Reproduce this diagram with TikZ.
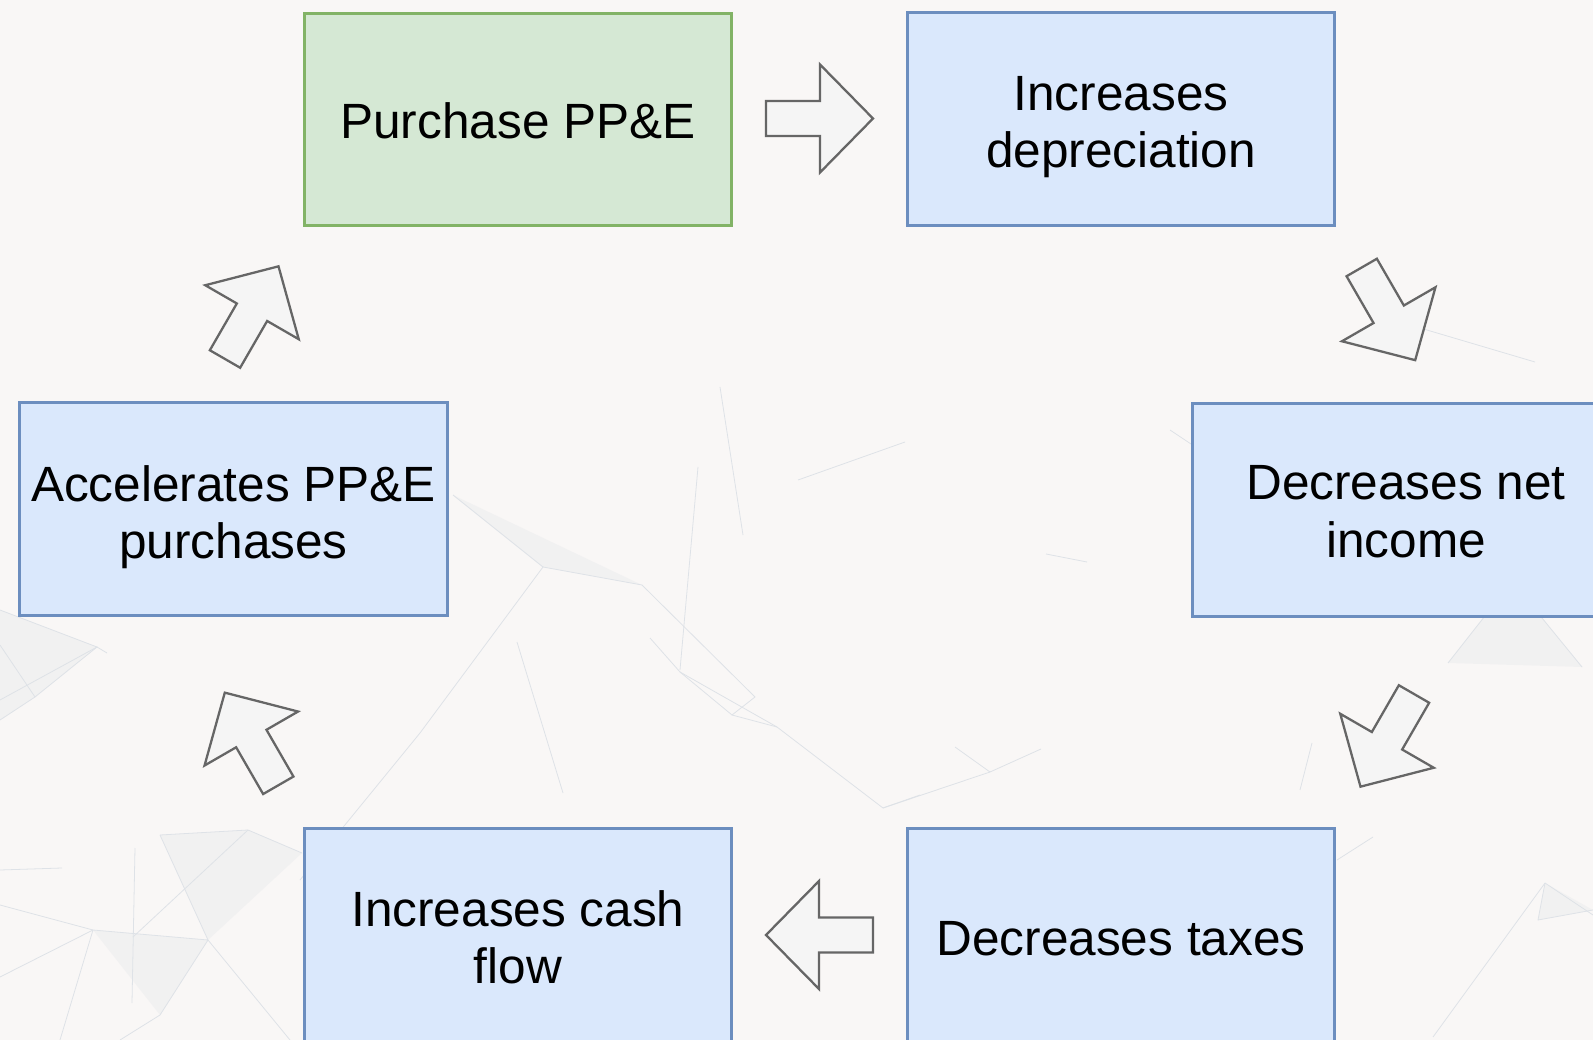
\documentclass[tikz,border=0pt]{standalone}
\usepackage{fontspec}
\setmainfont{Liberation Sans}
\definecolor{bgc}{RGB}{249,247,246}
\definecolor{bluefill}{HTML}{DAE8FC}
\definecolor{bluedraw}{HTML}{6C8EBF}
\definecolor{greenfill}{HTML}{D5E8D4}
\definecolor{greendraw}{HTML}{82B366}
\definecolor{arrfill}{HTML}{F5F5F5}
\definecolor{arrdraw}{HTML}{666666}
\definecolor{plex}{RGB}{222,226,231}
% lower a line without changing its dimensions
\newcommand{\lw}[2]{\raisebox{-#1}[\height][\depth]{#2}}
% lower a line and drop its depth
\newcommand{\lwz}[2]{\raisebox{-#1}[\height][0pt]{#2}}
\tikzset{
  box/.style={rectangle, draw=bluedraw, fill=bluefill, line width=1.7pt,
    minimum width=8.56cm, minimum height=4.26cm, inner sep=0pt,
    align=center, font=\fontsize{28.2}{32.6}\selectfont, text=black},
  greenbox/.style={box, draw=greendraw, fill=greenfill},
  arrowsty/.style={draw=arrdraw, fill=arrfill, line width=1.3pt, line join=miter},
  fatarrow/.pic={\path[arrowsty] (0,-17.5) -- (54,-17.5) -- (54,-54) -- (107,0) -- (54,54) -- (54,17.5) -- (0,17.5) -- cycle;},
  plexline/.style={draw=plex, line width=0.45pt},
  plexfill/.style={fill=plex, opacity=0.28}
}
\begin{document}
\begin{tikzpicture}[x=0.02cm, y=-0.02cm]
\useasboundingbox (0,0) rectangle (1593,1040);
\clip (0,0) rectangle (1593,1040);
\fill[bgc] (0,0) rectangle (1593,1040);

% faint background network
\fill[plexfill] (0,610) -- (97,647) -- (35,697) -- (0,720) -- cycle;
\fill[plexfill] (160,835) -- (248,830) -- (302,853) -- (208,940) -- cycle;
\fill[plexfill] (93,930) -- (208,940) -- (160,1015) -- cycle;
\fill[plexfill] (1545,883) -- (1593,910) -- (1538,920) -- cycle;
\fill[plexfill] (1448,663) -- (1492,607) -- (1533,607) -- (1582,667) -- cycle;
\fill[plexfill] (453,495) -- (543,567) -- (642,585) -- cycle;
\draw[plexline] (0,610) -- (97,647) -- (35,697) -- (0,720);
\draw[plexline] (0,645) -- (35,697);
\draw[plexline] (0,700) -- (97,647) -- (107,653);
\draw[plexline] (453,495) -- (543,567) -- (642,585) -- (755,697);
\draw[plexline] (543,567) -- (420,733) -- (300,880);
\draw[plexline] (720,387) -- (743,535);
\draw[plexline] (698,467) -- (680,670);
\draw[plexline] (650,638) -- (680,672) -- (777,727) -- (883,808) -- (920,795);
\draw[plexline] (680,672) -- (732,715) -- (755,697);
\draw[plexline] (732,715) -- (777,727);
\draw[plexline] (517,642) -- (563,793);
\draw[plexline] (905,442) -- (798,480);
\draw[plexline] (955,747) -- (990,772) -- (1041,749);
\draw[plexline] (990,772) -- (883,808);
\draw[plexline] (1046,554) -- (1087,562);
\draw[plexline] (1410,325) -- (1535,362);
\draw[plexline] (1170,430) -- (1245,480);
\draw[plexline] (160,835) -- (248,830) -- (302,853);
\draw[plexline] (160,835) -- (208,940) -- (93,930) -- (0,905);
\draw[plexline] (248,830) -- (133,937);
\draw[plexline] (93,930) -- (0,977);
\draw[plexline] (208,940) -- (160,1015) -- (120,1040);
\draw[plexline] (208,940) -- (290,1040);
\draw[plexline] (135,848) -- (132,1003);
\draw[plexline] (93,930) -- (60,1040);
\draw[plexline] (0,870) -- (62,868);
\draw[plexline] (1545,883) -- (1538,920) -- (1593,910);
\draw[plexline] (1545,883) -- (1593,915);
\draw[plexline] (1545,883) -- (1433,1037);
\draw[plexline] (1448,663) -- (1492,607);
\draw[plexline] (1582,667) -- (1533,607);
\draw[plexline] (1373,837) -- (1337,860);
\draw[plexline] (1312,743) -- (1300,790);

% boxes
\node[greenbox] (p1) at (518,119.5) {\lw{1pt}{Purchase PP\&E}};
\node[box] (p2) at (1121,119) {\lw{1.7pt}{Increases}\\\lwz{1.7pt}{depreciation}};
\node[box] (p3) at (1406,510) {\lw{0.9pt}{Decreases net}\\\lw{0.9pt}{income}};
\node[box] (p4) at (1121,935) {\lw{2.3pt}{Decreases taxes}};
\node[box] (p5) at (518,935) {\lw{1.1pt}{Increases cash}\\\lw{1.1pt}{flow}};
\node[box] (p6) at (233.5,509) {\lw{1.7pt}{Accelerates PP\&E}\\\lwz{1.7pt}{purchases}};

% block arrows
\pic at (766,118.5) {fatarrow};
\pic[rotate=-60] at (1361.7,267.5) {fatarrow};
\pic[rotate=-120] at (1414,694) {fatarrow};
\pic[rotate=180] at (873,935) {fatarrow};
\pic[rotate=120] at (278.3,785.3) {fatarrow};
\pic[rotate=60] at (225,359) {fatarrow};
\end{tikzpicture}
\end{document}
